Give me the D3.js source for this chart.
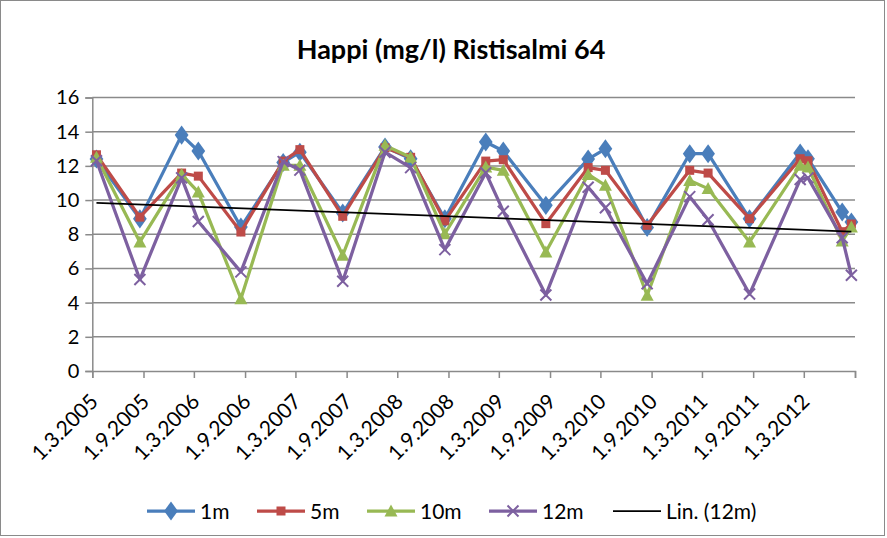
<!DOCTYPE html>
<html>
<head>
<meta charset="utf-8">
<script src="https://cdn.jsdelivr.net/npm/d3@7"></script>
<style>
  html, body { margin: 0; padding: 0; background: #fff; }
  svg { display: block; }
  text { font-family: Lato, "Open Sans", sans-serif; fill: #000; }
</style>
</head>
<body>
<svg id="chart" width="887" height="538"></svg>
<script>
// ---- data ----
const sampleDates = ["2005-03-16","2005-08-19","2006-01-16","2006-03-17","2006-08-17","2007-01-16","2007-03-17","2007-08-18","2008-01-17","2008-04-18","2008-08-19","2009-01-13","2009-03-17","2009-08-17","2010-01-16","2010-03-19","2010-08-16","2011-01-16","2011-03-23","2011-08-19","2012-02-17","2012-03-16","2012-07-17","2012-08-19"];
const depth1m  = [12.4, 8.9, 13.8, 12.87, 8.42, 12.2, 12.8, 9.24, 13.1, 12.42, 8.91, 13.4, 12.87, 9.69, 12.4, 13.0, 8.39, 12.71, 12.71, 8.91, 12.75, 12.42, 9.3, 8.72];
const depth5m  = [12.65, 9.0, 11.58, 11.4, 8.13, 12.28, 12.95, 9.05, 13.06, 12.5, 8.78, 12.28, 12.36, 8.62, 11.9, 11.74, 8.52, 11.74, 11.58, 8.91, 12.42, 12.3, 8.15, 8.6];
const depth10m = [12.5, 7.55, 11.5, 10.47, 4.23, 12.03, 12.03, 6.77, 13.2, 12.5, 8.03, 11.93, 11.74, 6.96, 11.5, 10.86, 4.43, 11.15, 10.67, 7.55, 12.03, 11.93, 7.6, 8.42];
const depth12m = [12.3, 5.35, 11.3, 8.75, 5.8, 12.25, 11.75, 5.25, 12.8, 11.9, 7.1, 11.6, 9.35, 4.45, 10.75, 9.55, 5.1, 10.2, 8.85, 4.5, 11.2, 11.3, 7.8, 5.6];
const seriesNames = ["1m", "5m", "10m", "12m"];
const trendName = "Lin. (12m)";
const xTickDates = ["2005-03-01","2005-09-01","2006-03-01","2006-09-01","2007-03-01","2007-09-01","2008-03-01","2008-09-01","2009-03-01","2009-09-01","2010-03-01","2010-09-01","2011-03-01","2011-09-01","2012-03-01","2012-09-01"];
const xTickLabels = ["1.3.2005","1.9.2005","1.3.2006","1.9.2006","1.3.2007","1.9.2007","1.3.2008","1.9.2008","1.3.2009","1.9.2009","1.3.2010","1.9.2010","1.3.2011","1.9.2011","1.3.2012",""];
const yTicks = [0, 2, 4, 6, 8, 10, 12, 14, 16];
const titleText = "Happi (mg/l) Ristisalmi 64";

// ---- setup ----
const parse = d3.timeParse("%Y-%m-%d");
const dates = sampleDates.map(parse);
const tickDates = xTickDates.map(parse);
const colors = ["#4A7EBB", "#BE4B48", "#98B954", "#7D60A0"];
const seriesVals = [depth1m, depth5m, depth10m, depth12m];
const shapes = ["diamond", "square", "triangle", "cross"];

const svg = d3.select("#chart");
const x = d3.scaleTime().domain([tickDates[0], tickDates[tickDates.length - 1]]).range([92.3, 855]);
const y = d3.scaleLinear().domain([0, 16]).range([371, 97.5]);
const gridColor = "#8a8a8a";

// chart border
svg.append("rect").attr("x", 0.5).attr("y", 0.5).attr("width", 884).attr("height", 535)
  .attr("fill", "none").attr("stroke", gridColor).attr("stroke-width", 1);

// title
svg.append("text").attr("x", 451).attr("y", 59).attr("text-anchor", "middle")
  .style("font-weight", "bold").style("font-size", "27px").text(titleText);

// gridlines + y axis
const yAxis = d3.axisLeft(y).tickValues(yTicks).tickSize(7).tickPadding(6).tickFormat(d3.format("d"));
const gy = svg.append("g").attr("transform", "translate(92.3,0)").call(yAxis);
gy.selectAll("path,line").attr("stroke", gridColor).attr("stroke-width", 1.5);
gy.selectAll("text").style("font-size", "20px").style("font-family", "Lato, sans-serif").attr("fill", "#000");
svg.append("g").selectAll("line").data(yTicks.filter(d => d > 0)).join("line")
  .attr("x1", 92.3).attr("x2", 855).attr("y1", d => y(d)).attr("y2", d => y(d))
  .attr("stroke", gridColor).attr("stroke-width", 1.5);

// x axis
const xAxis = d3.axisBottom(x).tickValues(tickDates).tickSize(7).tickFormat("");
const gx = svg.append("g").attr("transform", "translate(0,371)").call(xAxis);
gx.selectAll("path,line").attr("stroke", gridColor).attr("stroke-width", 1.5);
svg.append("g").selectAll("text").data(tickDates.slice(0, -1)).join("text")
  .attr("transform", d => `translate(${x(d) + 7},403) rotate(-45)`)
  .attr("text-anchor", "end").style("font-size", "21px")
  .text((d, i) => xTickLabels[i]);

// marker drawing
function drawMarker(g, shape, color, cx, cy) {
  if (shape === "diamond") {
    g.append("path").attr("d", d3.symbol(d3.symbolDiamond, 105)())
      .attr("transform", `translate(${cx},${cy}) scale(1.25,1)`).attr("fill", color);
  } else if (shape === "square") {
    g.append("rect").attr("x", cx - 4.5).attr("y", cy - 4.5).attr("width", 9).attr("height", 9).attr("fill", color);
  } else if (shape === "triangle") {
    g.append("path").attr("d", `M${cx},${cy - 6.5}L${cx + 6.5},${cy + 5.5}L${cx - 6.5},${cy + 5.5}Z`).attr("fill", color);
  } else {
    g.append("path").attr("d", `M${cx - 5.5},${cy - 5.5}L${cx + 5.5},${cy + 5.5}M${cx - 5.5},${cy + 5.5}L${cx + 5.5},${cy - 5.5}`)
      .attr("stroke", color).attr("stroke-width", 2).attr("fill", "none");
  }
}

// series
const line = d3.line().x(d => x(d[0])).y(d => y(d[1]));
seriesVals.forEach((vals, si) => {
  const pts = dates.map((d, i) => [d, vals[i]]);
  const g = svg.append("g");
  g.append("path").attr("d", line(pts)).attr("fill", "none")
    .attr("stroke", colors[si]).attr("stroke-width", 3.25).attr("stroke-linejoin", "round");
  pts.forEach(p => drawMarker(g, shapes[si], colors[si], x(p[0]), y(p[1])));
});

// linear trend for 12m
const xs = dates.map(d => d.getTime());
const ys = depth12m;
const mx = d3.mean(xs), my = d3.mean(ys);
const slope = d3.sum(xs.map((v, i) => (v - mx) * (ys[i] - my))) / d3.sum(xs.map(v => (v - mx) * (v - mx)));
const icpt = my - slope * mx;
const tEnds = [dates[0], dates[dates.length - 1]];
svg.append("path").attr("d", d3.line().x(d => x(d)).y(d => y(icpt + slope * d.getTime()))(tEnds))
  .attr("stroke", "#000").attr("stroke-width", 1.75).attr("fill", "none");

// legend
const legY = 511;
const legItems = [
  {name: seriesNames[0], color: colors[0], shape: shapes[0], x0: 147},
  {name: seriesNames[1], color: colors[1], shape: shapes[1], x0: 257},
  {name: seriesNames[2], color: colors[2], shape: shapes[2], x0: 367},
  {name: seriesNames[3], color: colors[3], shape: shapes[3], x0: 489},
  {name: trendName, color: "#000", shape: null, x0: 613}
];
const lg = svg.append("g");
legItems.forEach(it => {
  lg.append("line").attr("x1", it.x0).attr("x2", it.x0 + 48).attr("y1", legY).attr("y2", legY)
    .attr("stroke", it.color).attr("stroke-width", it.shape ? 3.25 : 1.75);
  if (it.shape) drawMarker(lg, it.shape, it.color, it.x0 + 24, legY);
  lg.append("text").attr("x", it.x0 + 53).attr("y", legY + 7.5).style("font-size", "21px").text(it.name);
});
</script>
</body>
</html>
